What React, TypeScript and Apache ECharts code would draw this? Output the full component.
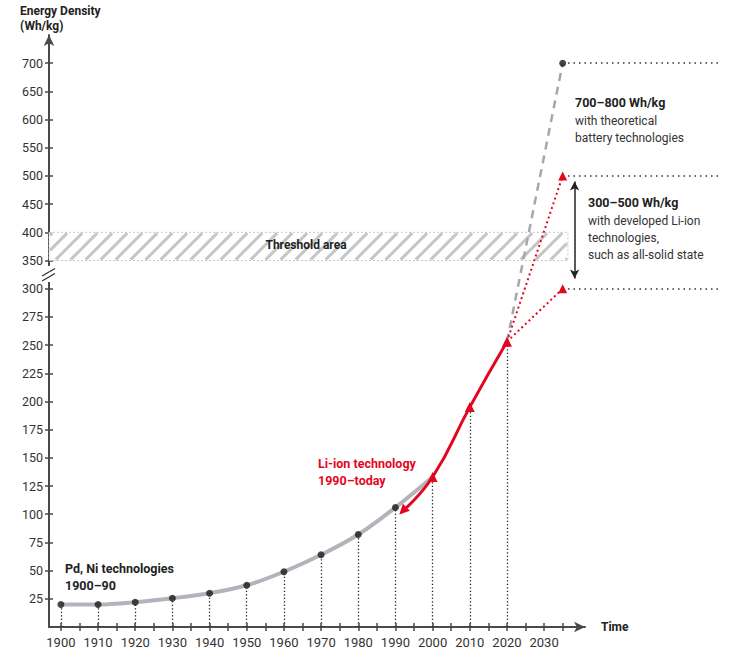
import React, { useEffect, useRef } from "react";
import * as echarts from "echarts";

// ---- data ----
const leadYears = [1900, 1910, 1920, 1930, 1940, 1950, 1960, 1970, 1980, 1990, 2000];
const leadValues = [20, 20, 22, 25.5, 30, 37, 49, 64, 82, 106, 133];
const dotYears = [1900, 1910, 1920, 1930, 1940, 1950, 1960, 1970, 1980, 1990];
const dotValues = [20, 20, 22, 25.5, 30, 37, 49, 64, 82, 106];
const liionYears = [1992, 2000, 2010, 2020];
const liionValues = [103, 133, 195, 253];
const dropYears = [1900, 1910, 1920, 1930, 1940, 1950, 1960, 1970, 1980, 1990, 2000, 2010, 2020];
const dropValues = [20, 20, 22, 25.5, 30, 37, 49, 64, 82, 106, 133, 195, 253];
const theoryYears = [2020, 2035];
const theoryValues = [253, 700];
const developedYears = [2020, 2035];
const developedHigh = [253, 500];
const developedLow = [253, 300];
const levelValues = [700, 500, 300];
const rangeArrowYear = 2038.2;
const rangeArrowValues = [490, 318];
const thresholdRange = [350, 400];
const thresholdYears = [1896.8, 2036.4];
const yTickValues = [25, 50, 75, 100, 125, 150, 175, 200, 225, 250, 275, 300, 350, 400, 450, 500, 550, 600, 650, 700];
const xLabelYears = [1900, 1910, 1920, 1930, 1940, 1950, 1960, 1970, 1980, 1990, 2000, 2010, 2020, 2030];
const xTickYears = [1900, 1905, 1910, 1915, 1920, 1925, 1930, 1935, 1940, 1945, 1950, 1955, 1960, 1965, 1970, 1975, 1980, 1985, 1990, 1995, 2000, 2005, 2010, 2015, 2020, 2025, 2030, 2035];

// broken axis: 25 per step up to 300, then 50 per step
const T = (v: number) => (v <= 300 ? v / 25 : 12 + (v - 300) / 50);
const invT = (t: number) => (t <= 12 ? t * 25 : 300 + (t - 12) * 50);

const X_MIN = 1896.8;
const X_MAX = 2041;
const AXIS = "#4a4a4a";
const RED = "#e3061f";
const FONT = "Roboto";

export default function App() {
  const ref = useRef<HTMLDivElement>(null);
  useEffect(() => {
    document.body.style.margin = "0";
    const chart = echarts.init(ref.current!, null, { renderer: "svg" });
    const pt = (x: number, v: number) => [x, T(v)];

    const option: any = {
      animation: false,
      backgroundColor: "#fff",
      grid: [
        { left: 49, right: 144, top: 35, bottom: 30 },
        { left: 568, right: 9, top: 35, bottom: 30 },
      ],
      xAxis: [
        {
          type: "value", gridIndex: 0, min: X_MIN, max: X_MAX, position: "bottom",
          axisLine: { show: true, onZero: false, symbol: ["none", "arrow"], symbolSize: [8, 11], lineStyle: { color: AXIS, width: 2 } },
          axisTick: { show: true, customValues: xTickYears, length: 4, lineStyle: { color: AXIS, width: 1.5 } },
          axisLabel: { customValues: xLabelYears, formatter: (v: number) => String(v), fontSize: 13, color: "#333", margin: 9, fontFamily: FONT },
          splitLine: { show: false },
        },
        {
          type: "value", gridIndex: 0, min: X_MIN, max: X_MAX, position: "bottom",
          axisLine: { show: false },
          axisTick: { show: true, inside: true, customValues: xTickYears, length: 4, lineStyle: { color: AXIS, width: 1.5 } },
          axisLabel: { show: false },
          splitLine: { show: false },
        },
        { type: "value", gridIndex: 1, min: 0, max: 1, show: false },
      ],
      yAxis: [
        {
          type: "value", gridIndex: 0, min: 0, max: 21, position: "left",
          axisLine: { show: true, onZero: false, symbol: ["none", "arrow"], symbolSize: [8, 11], lineStyle: { color: AXIS, width: 2 } },
          axisTick: { show: true, customValues: yTickValues.map(T), length: 4, lineStyle: { color: AXIS, width: 1.5 } },
          axisLabel: { customValues: yTickValues.map(T), formatter: (t: number) => String(Math.round(invT(t))), fontSize: 12.5, color: "#333", margin: 6, fontFamily: FONT },
          splitLine: { show: false },
        },
        {
          type: "value", gridIndex: 0, min: 0, max: 21, position: "left",
          axisLine: { show: false },
          axisTick: { show: true, inside: true, customValues: yTickValues.map(T), length: 4, lineStyle: { color: AXIS, width: 1.5 } },
          axisLabel: { show: false },
          splitLine: { show: false },
        },
        { type: "value", gridIndex: 1, min: 0, max: 21, show: false },
      ],
      series: [
        {
          type: "custom", xAxisIndex: 0, yAxisIndex: 0, z: 1, silent: true,
          encode: { x: [0, 1], y: [2, 3] },
          data: [[thresholdYears[0], thresholdYears[1], T(thresholdRange[0]), T(thresholdRange[1])]],
          renderItem: (params: any, api: any) => {
            const a = api.coord([api.value(0), api.value(3)]);
            const b = api.coord([api.value(1), api.value(2)]);
            const left = a[0], top = a[1], right = b[0], bottom = b[1];
            const h = bottom - top;
            const children: any[] = [
              { type: "rect", shape: { x: left, y: top, width: right - left, height: h }, style: { fill: "#fff", stroke: "#c8c8c8", lineWidth: 1, lineDash: [2, 2] } },
            ];
            const gap = 15;
            for (let x0 = left - h + 4; x0 < right; x0 += gap) {
              const s0 = Math.max(0.03, (left + 1 - x0) / h);
              const s1 = Math.min(0.97, (right - 1 - x0) / h);
              if (s1 <= s0) continue;
              children.push({
                type: "line",
                shape: { x1: x0 + s0 * h, y1: bottom - s0 * h, x2: x0 + s1 * h, y2: bottom - s1 * h },
                style: { stroke: "#c6c6c6", lineWidth: 3 },
              });
            }
            return { type: "group", children };
          },
        },
        {
          type: "line", xAxisIndex: 0, yAxisIndex: 0, z: 3, smooth: 0.35, symbol: "none",
          data: leadYears.map((y, i) => pt(y, leadValues[i])),
          lineStyle: { color: "#b3b3bb", width: 4 },
        },
        {
          type: "line", xAxisIndex: 0, yAxisIndex: 0, z: 3, symbol: "none",
          data: theoryYears.map((y, i) => pt(y, theoryValues[i])),
          lineStyle: { color: "#a6a6ae", width: 2.5, type: [8, 6] },
        },
        {
          type: "line", xAxisIndex: 0, yAxisIndex: 0, z: 4, symbol: "triangle", symbolSize: 9,
          data: developedYears.map((y, i) => (i === 0 ? { value: pt(y, developedHigh[i]), symbol: "none" } : pt(y, developedHigh[i]))),
          lineStyle: { color: RED, width: 2, type: [2, 3] },
          itemStyle: { color: RED },
        },
        {
          type: "line", xAxisIndex: 0, yAxisIndex: 0, z: 4, symbol: "triangle", symbolSize: 9,
          data: developedYears.map((y, i) => (i === 0 ? { value: pt(y, developedLow[i]), symbol: "none" } : pt(y, developedLow[i]))),
          lineStyle: { color: RED, width: 2, type: [2, 3] },
          itemStyle: { color: RED },
        },
        {
          type: "line", xAxisIndex: 0, yAxisIndex: 0, z: 5, smooth: 0.5, symbol: "triangle", symbolSize: 10,
          data: liionYears.map((y, i) => (i === 0 ? { value: pt(y, liionValues[i]), symbolRotate: 135 } : pt(y, liionValues[i]))),
          lineStyle: { color: RED, width: 3 },
          itemStyle: { color: RED },
        },
        {
          type: "scatter", xAxisIndex: 0, yAxisIndex: 0, z: 6, symbolSize: 7,
          data: dotYears.map((y, i) => pt(y, dotValues[i])),
          itemStyle: { color: "#1a1a1a" },
          markLine: {
            silent: true, symbol: "none", z: 2,
            label: { show: false },
            lineStyle: { color: "#222", width: 1.3, type: [1.3, 2.2] },
            data: dropYears.map((y, i) => [{ coord: [y, 0] }, { coord: pt(y, dropValues[i]) }]),
          },
        },
        {
          type: "scatter", xAxisIndex: 0, yAxisIndex: 0, z: 6, symbolSize: 7,
          data: [pt(theoryYears[1], theoryValues[1])],
          itemStyle: { color: "#1a1a1a" },
          markLine: {
            silent: true, symbol: ["arrow", "arrow"], symbolSize: [7, 9],
            label: { show: false },
            lineStyle: { color: "#222", width: 1.5, type: "solid" },
            data: [[{ coord: pt(rangeArrowYear, rangeArrowValues[0]) }, { coord: pt(rangeArrowYear, rangeArrowValues[1]) }]],
          },
        },
        {
          type: "line", xAxisIndex: 2, yAxisIndex: 2, symbol: "none", data: [[0, T(levelValues[0])]],
          lineStyle: { opacity: 0 },
          markLine: {
            silent: true, symbol: "none", label: { show: false },
            lineStyle: { color: "#333", width: 1.5, type: [1.5, 4] },
            data: levelValues.map((v) => ({ yAxis: T(v) })),
          },
        },
      ],
      graphic: [
        { type: "rect", z: 100, shape: { x: 43, y: 266, width: 13, height: 16 }, style: { fill: "#fff" } },
        { type: "line", z: 101, shape: { x1: 42, y1: 276, x2: 55, y2: 268.5 }, style: { stroke: "#333", lineWidth: 1.3 } },
        { type: "line", z: 101, shape: { x1: 42, y1: 281, x2: 55, y2: 273.5 }, style: { stroke: "#333", lineWidth: 1.3 } },
        { type: "text", z: 100, left: 20, top: 3, style: { text: "Energy Density\n(Wh/kg)", font: `bold 12px ${FONT}`, fill: "#222", lineHeight: 15 } },
        { type: "text", z: 100, x: 306, y: 245, style: { text: "Threshold area", font: `bold 12px ${FONT}`, fill: "#222", textAlign: "center", textVerticalAlign: "middle" } },
        { type: "text", z: 100, x: 65, y: 560, style: { text: "Pd, Ni technologies\n1900–90", font: `bold 12.5px ${FONT}`, fill: "#222", lineHeight: 17 } },
        { type: "text", z: 100, x: 318, y: 455, style: { text: "Li-ion technology\n1990–today", font: `bold 12.5px ${FONT}`, fill: RED, lineHeight: 17 } },
        { type: "text", z: 100, x: 575, y: 96, style: { text: "700–800 Wh/kg", font: `bold 12.5px ${FONT}`, fill: "#222" } },
        { type: "text", z: 100, x: 575, y: 113, style: { text: "with theoretical\nbattery technologies", font: `12px ${FONT}`, fill: "#333", lineHeight: 16.5 } },
        { type: "text", z: 100, x: 588, y: 196, style: { text: "300–500 Wh/kg", font: `bold 12.5px ${FONT}`, fill: "#222" } },
        { type: "text", z: 100, x: 588, y: 213, style: { text: "with developed Li-ion\ntechnologies,\nsuch as all-solid state", font: `12px ${FONT}`, fill: "#333", lineHeight: 16.7 } },
        { type: "text", z: 100, x: 601, y: 627, style: { text: "Time", font: `bold 12px ${FONT}`, fill: "#222", textVerticalAlign: "middle" } },
      ],
    };
    chart.setOption(option);
    return () => chart.dispose();
  }, []);
  return <div ref={ref} style={{ width: 729, height: 657 }} />;
}
